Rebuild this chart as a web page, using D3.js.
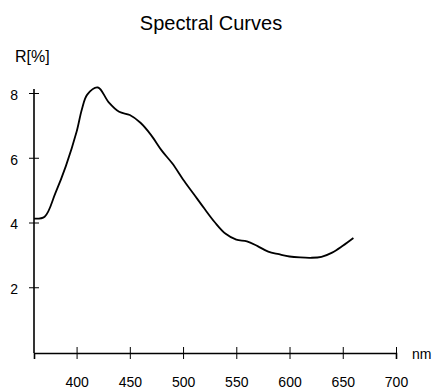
<!DOCTYPE html>
<html>
<head>
<meta charset="utf-8">
<script src="https://cdn.jsdelivr.net/npm/d3@7"></script>
<style>
  body { margin: 0; background: #fff; }
  text { font-family: "Liberation Sans", Arial, sans-serif; fill: #000; }
</style>
</head>
<body>
<div id="chart"></div>
<script>
// wavelength (nm) and reflectance (%)
var wavelengths = [360, 370, 380, 390, 400, 405, 410, 420, 430, 440, 450, 460, 470, 480, 490, 500,
                   510, 520, 530, 540, 550, 560, 570, 580, 590, 600, 610, 620, 630, 640, 650, 660];
var reflectance = [4.12, 4.18, 4.9, 5.75, 6.8, 7.5, 7.95, 8.17, 7.72, 7.42, 7.32, 7.08, 6.7, 6.22, 5.82, 5.33,
                   4.88, 4.43, 4.0, 3.65, 3.47, 3.42, 3.27, 3.1, 3.02, 2.95, 2.92, 2.91, 2.94, 3.07, 3.28, 3.52];
var xTicks = [400, 450, 500, 550, 600, 650, 700];
var yTicks = [2, 4, 6, 8];

var width = 436, height = 390;

var svg = d3.select('#chart').append('svg')
    .attr('width', width)
    .attr('height', height)

var x = d3.scaleLinear().domain([360, 700]).range([34, 396]);
var y = d3.scaleLinear().domain([0, 8]).range([352, 93]);

// title + unit labels
svg.append('text')
    .attr('x', 211).attr('y', 30)
    .attr('text-anchor', 'middle')
    .attr('font-size', '20px')
    .text('Spectral Curves')

svg.append('text')
    .attr('x', 15).attr('y', 62)
    .attr('font-size', '16px')
    .text('R[%]')

svg.append('text')
    .attr('x', 412).attr('y', 359)
    .attr('font-size', '14px')
    .text('nm')

// x axis
var xAxis = d3.axisBottom(x).tickValues(xTicks).tickSizeOuter(0).tickSize(6)
var gx = svg.append('g')
    .attr('transform', `translate(0,${y(0) + 1})`)
    .call(xAxis)
gx.select('.domain').attr('stroke', '#000').attr('stroke-width', 1.6)
gx.selectAll('.tick line').attr('y1', -6).attr('y2', 6).attr('stroke', '#000').attr('stroke-width', 1)
gx.selectAll('.tick text')
    .attr('y', 34).attr('dy', 0)
    .attr('font-size', '14px')
    .attr('font-family', '"Liberation Sans", Arial, sans-serif')
    .attr('fill', '#000')

// y axis
var yAxis = d3.axisLeft(y).tickValues(yTicks).tickSizeOuter(0).tickSize(5)
var gy = svg.append('g')
    .attr('transform', 'translate(34,0)')
    .call(yAxis)
gy.select('.domain').attr('d', `M0,${y(8) - 4}V${y(0) + 1}`)
    .attr('stroke', '#000').attr('stroke-width', 1.6)
gy.selectAll('.tick line').attr('x1', -5).attr('x2', 5).attr('stroke', '#000').attr('stroke-width', 1)
gy.selectAll('.tick text')
    .attr('x', -16).attr('dy', '0.45em')
    .attr('font-size', '14px')
    .attr('font-family', '"Liberation Sans", Arial, sans-serif')
    .attr('fill', '#000')

// spectral curve
var line = d3.line()
    .x((d, i) => x(wavelengths[i]))
    .y(d => y(d))
    .curve(d3.curveCatmullRom)

svg.append('path')
    .datum(reflectance)
    .attr('d', line)
    .attr('fill', 'none')
    .attr('stroke', '#000')
    .attr('stroke-width', 1.8)
</script>
</body>
</html>
